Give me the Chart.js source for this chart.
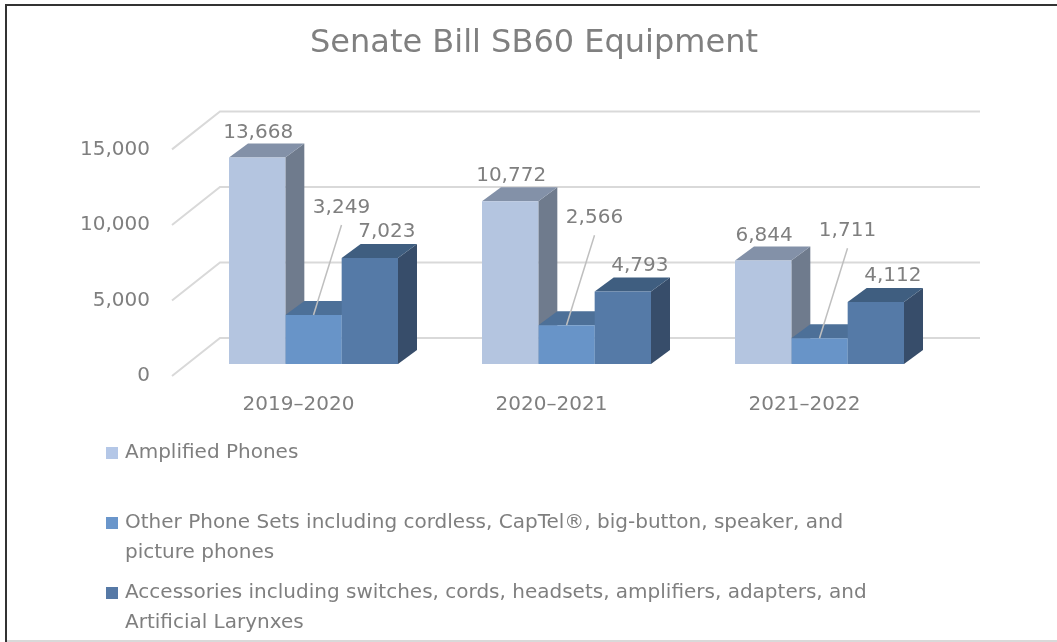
<!DOCTYPE html>
<html>
<head>
<meta charset="utf-8">
<title>Senate Bill SB60 Equipment</title>
<script src="https://cdn.jsdelivr.net/npm/chart.js@4.4.1/dist/chart.umd.min.js"></script>
<style>
  html, body { margin: 0; padding: 0; background: #fff; }
  #wrap { position: relative; width: 1057px; height: 642px; }
</style>
</head>
<body>
<div id="wrap"><canvas id="graph1" width="1057" height="642"></canvas></div>
<script>
var categories = ['2019–2020', '2020–2021', '2021–2022'];
var amplifiedPhones = [13668, 10772, 6844];
var otherPhoneSets = [3249, 2566, 1711];
var accessories = [7023, 4793, 4112];
var yTicks = [0, 5000, 10000, 15000];
var seriesNames = [
  ['Amplified Phones'],
  ['Other Phone Sets including cordless, CapTel®, big-button, speaker, and', 'picture phones'],
  ['Accessories including switches, cords, headsets, amplifiers, adapters, and', 'Artificial Larynxes']
];

var FONT = '"DejaVu Sans", sans-serif';
var GREY = '#7f7f7f';

// front / top / side colours for each series
var faceColors = [
  { front: '#b4c5e0', top: '#8391a8', side: '#6f7b8d' },
  { front: '#6894c8', top: '#4d7098', side: '#3f5c80' },
  { front: '#557aa7', top: '#3f5e80', side: '#374d6a' }
];
var legendColors = ['#b4c7e7', '#6a96cb', '#5679a6'];

function fmt(v) { return v.toLocaleString('en-US'); }

// depth of the bars and of the walls
var barDX = 19, barDY = -14;
var wallDX = 33, wallDY = -26;
var floorDX = -15, floorDY = 12;

const box3d = {
  id: 'box3d',
  beforeDatasetsDraw(chart) {
    const ctx = chart.ctx;
    const area = chart.chartArea;
    const y = chart.scales.y;
    ctx.save();
    // back wall + side wall lines
    ctx.strokeStyle = '#d9d9d9';
    ctx.lineWidth = 2;
    yTicks.forEach(function (v) {
      var py = y.getPixelForValue(v);
      ctx.beginPath();
      ctx.moveTo(area.left + floorDX, py + floorDY);
      ctx.lineTo(area.left + wallDX, py + wallDY);
      ctx.lineTo(area.right + wallDX + 1, py + wallDY);
      ctx.stroke();
    });
    // sides and tops, left to right
    for (var i = 0; i < categories.length; i++) {
      for (var d = 0; d < chart.data.datasets.length; d++) {
        var el = chart.getDatasetMeta(d).data[i];
        var p = el.getProps(['x', 'y', 'base', 'width'], true);
        var l = p.x - p.width / 2, r = p.x + p.width / 2;
        var c = faceColors[d];
        ctx.fillStyle = c.side;
        ctx.beginPath();
        ctx.moveTo(r, p.y);
        ctx.lineTo(r + barDX, p.y + barDY);
        ctx.lineTo(r + barDX, p.base + barDY);
        ctx.lineTo(r, p.base);
        ctx.closePath();
        ctx.fill();
        ctx.fillStyle = c.top;
        ctx.beginPath();
        ctx.moveTo(l, p.y);
        ctx.lineTo(r, p.y);
        ctx.lineTo(r + barDX, p.y + barDY);
        ctx.lineTo(l + barDX, p.y + barDY);
        ctx.closePath();
        ctx.fill();
      }
    }
    ctx.restore();
  },
  afterDatasetsDraw(chart) {
    const ctx = chart.ctx;
    ctx.save();
    ctx.font = '20px ' + FONT;
    ctx.fillStyle = GREY;
    ctx.textAlign = 'center';
    ctx.textBaseline = 'middle';
    chart.data.datasets.forEach(function (ds, d) {
      chart.getDatasetMeta(d).data.forEach(function (el, i) {
        var p = el.getProps(['x', 'y'], true);
        var txt = fmt(ds.data[i]);
        if (d === 0) {
          ctx.fillText(txt, p.x + 1, p.y - 25);
        } else if (d === 1) {
          var lx = p.x + 28, ly = p.y - 107;
          ctx.strokeStyle = '#bfbfbf';
          ctx.lineWidth = 1.5;
          ctx.beginPath();
          ctx.moveTo(lx, ly + 17);
          ctx.lineTo(p.x, p.y);
          ctx.stroke();
          ctx.fillText(txt, lx, ly);
        } else {
          ctx.fillText(txt, p.x + 17, p.y - 26);
        }
      });
    });
    ctx.restore();
  },
  afterDraw(chart) {
    const ctx = chart.ctx;
    ctx.save();
    // legend
    var legendY = [453, 523, 593];
    ctx.font = '20px ' + FONT;
    ctx.textAlign = 'left';
    ctx.textBaseline = 'middle';
    seriesNames.forEach(function (lines, k) {
      ctx.fillStyle = legendColors[k];
      ctx.fillRect(106, legendY[k] - 6, 12, 12);
      ctx.fillStyle = GREY;
      lines.forEach(function (t, j) {
        ctx.fillText(t, 125, legendY[k] + j * 29.5);
      });
    });
    // frame
    ctx.fillStyle = '#333';
    ctx.fillRect(5, 4, 1052, 2);
    ctx.fillRect(5, 4, 2, 638);
    ctx.fillStyle = '#d9d9d9';
    ctx.fillRect(7, 640, 1050, 2);
    ctx.restore();
  }
};

const config = {
  type: 'bar',
  data: {
    labels: categories,
    datasets: [
      { label: seriesNames[0].join(' '), data: amplifiedPhones, backgroundColor: faceColors[0].front },
      { label: seriesNames[1].join(' '), data: otherPhoneSets, backgroundColor: faceColors[1].front },
      { label: seriesNames[2].join(' '), data: accessories, backgroundColor: faceColors[2].front }
    ]
  },
  options: {
    responsive: false,
    animation: false,
    devicePixelRatio: 1,
    categoryPercentage: 0.668,
    barPercentage: 1.0,
    layout: { padding: { top: 0, left: 11, right: 0, bottom: 0 } },
    plugins: {
      legend: { display: false },
      tooltip: { enabled: false },
      title: {
        display: true,
        text: 'Senate Bill SB60 Equipment',
        color: '#808080',
        font: { family: FONT, size: 32, weight: 'normal' },
        padding: { top: 24, bottom: 75 }
      }
    },
    scales: {
      x: {
        grid: { display: false, drawTicks: false },
        border: { display: false },
        ticks: { color: GREY, font: { family: FONT, size: 20 }, padding: 29, labelOffset: -15 },
        afterFit: function (s) { s.height = 278; }
      },
      y: {
        min: 0,
        max: 15000,
        grid: { display: false, drawTicks: false },
        border: { display: false },
        afterBuildTicks: function (s) { s.ticks = yTicks.map(function (v) { return { value: v }; }); },
        ticks: {
          color: GREY,
          font: { family: FONT, size: 20 },
          padding: 37,
          labelOffset: 12,
          callback: function (v) { return fmt(v); }
        },
        afterFit: function (s) { s.width = 176; }
      },
      // empty axis on the right, only reserves room for the back wall
      yRight: {
        position: 'right',
        min: 0,
        max: 15000,
        grid: { display: false, drawTicks: false },
        border: { display: false },
        ticks: { display: false },
        afterFit: function (s) { s.width = 111; }
      }
    }
  },
  plugins: [box3d]
};

var myChart = new Chart(document.getElementById('graph1'), config);
</script>
</body>
</html>
